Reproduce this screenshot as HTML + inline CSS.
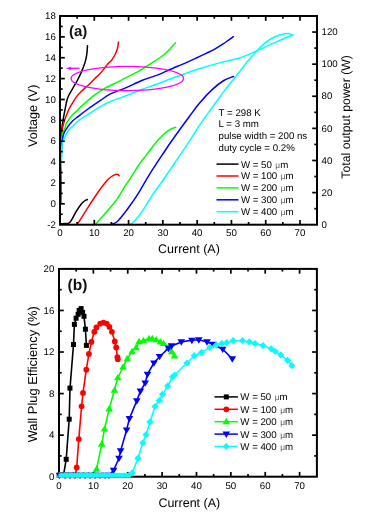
<!DOCTYPE html>
<html><head><meta charset="utf-8"><style>
html,body{margin:0;padding:0;background:#fff;width:370px;height:523px;overflow:hidden;position:relative}
</style></head><body>
<svg width="370" height="523" viewBox="0 0 370 523" style="position:absolute;left:0;top:0;will-change:transform">
<g font-family="Liberation Sans, sans-serif" fill="#000" text-rendering="geometricPrecision">
<path d="M60.50,204.00 C60.53,197.50 60.62,174.83 60.70,165.00 C60.78,155.17 60.87,150.33 61.00,145.00 C61.13,139.67 61.32,136.17 61.50,133.00 C61.68,129.83 61.80,128.38 62.10,126.00 C62.40,123.62 62.77,121.67 63.30,118.70 C63.83,115.73 64.70,111.23 65.30,108.20 C65.90,105.17 66.33,102.62 66.90,100.50 C67.47,98.38 67.60,97.75 68.70,95.50 C69.80,93.25 71.93,89.75 73.50,87.00 C75.07,84.25 76.67,81.77 78.10,79.00 C79.53,76.23 80.97,73.08 82.10,70.40 C83.23,67.72 84.13,65.48 84.90,62.90 C85.67,60.32 86.27,57.77 86.70,54.90 C87.13,52.03 87.37,47.23 87.50,45.70" fill="none" stroke="#000000" stroke-width="1.5" stroke-linejoin="round" stroke-linecap="round"/>
<path d="M60.50,204.00 C60.55,197.50 60.72,175.33 60.80,165.00 C60.88,154.67 60.83,147.50 61.00,142.00 C61.17,136.50 61.40,134.97 61.80,132.00 C62.20,129.03 62.68,126.85 63.40,124.20 C64.12,121.55 65.03,118.88 66.10,116.10 C67.17,113.32 68.68,109.75 69.80,107.50 C70.92,105.25 71.67,104.42 72.80,102.60 C73.93,100.78 75.15,98.50 76.60,96.60 C78.05,94.70 79.48,93.18 81.50,91.20 C83.52,89.22 86.55,86.73 88.70,84.70 C90.85,82.67 92.58,80.78 94.40,79.00 C96.22,77.22 98.07,75.60 99.60,74.00 C101.13,72.40 102.27,71.03 103.60,69.40 C104.93,67.77 106.27,65.73 107.60,64.20 C108.93,62.67 110.35,61.82 111.60,60.20 C112.85,58.58 114.13,56.40 115.10,54.50 C116.07,52.60 116.83,50.90 117.40,48.80 C117.97,46.70 118.32,43.05 118.50,41.90" fill="none" stroke="#ff0000" stroke-width="1.5" stroke-linejoin="round" stroke-linecap="round"/>
<path d="M60.50,204.00 C60.58,197.50 60.83,175.33 61.00,165.00 C61.17,154.67 61.22,147.28 61.50,142.00 C61.78,136.72 62.12,135.63 62.70,133.30 C63.28,130.97 64.35,129.70 65.00,128.00 C65.65,126.30 65.52,125.08 66.60,123.10 C67.68,121.12 69.60,118.30 71.50,116.10 C73.40,113.90 75.87,111.98 78.00,109.90 C80.13,107.82 81.67,105.98 84.30,103.60 C86.93,101.22 90.40,98.13 93.80,95.60 C97.20,93.07 100.35,90.85 104.70,88.40 C109.05,85.95 114.85,83.43 119.90,80.90 C124.95,78.37 131.25,75.20 135.00,73.20 C138.75,71.20 139.63,70.57 142.40,68.90 C145.17,67.23 148.08,65.52 151.60,63.20 C155.12,60.88 160.43,57.38 163.50,55.00 C166.57,52.62 168.02,50.92 170.00,48.90 C171.98,46.88 174.50,43.90 175.40,42.90" fill="none" stroke="#00ff00" stroke-width="1.5" stroke-linejoin="round" stroke-linecap="round"/>
<path d="M60.50,204.00 C60.58,198.33 60.82,179.00 61.00,170.00 C61.18,161.00 61.38,154.85 61.60,150.00 C61.82,145.15 61.92,143.68 62.30,140.90 C62.68,138.12 63.00,135.63 63.90,133.30 C64.80,130.97 66.25,128.95 67.70,126.90 C69.15,124.85 70.88,122.72 72.60,121.00 C74.32,119.28 75.43,118.60 78.00,116.60 C80.57,114.60 84.25,111.70 88.00,109.00 C91.75,106.30 96.83,102.87 100.50,100.40 C104.17,97.93 105.72,96.33 110.00,94.20 C114.28,92.07 120.80,89.92 126.20,87.60 C131.60,85.28 137.00,82.47 142.40,80.30 C147.80,78.13 154.00,76.40 158.60,74.60 C163.20,72.80 165.40,71.50 170.00,69.50 C174.60,67.50 181.52,64.65 186.20,62.60 C190.88,60.55 194.77,58.73 198.10,57.20 C201.43,55.67 203.50,54.72 206.20,53.40 C208.90,52.08 211.60,50.80 214.30,49.30 C217.00,47.80 219.97,45.97 222.40,44.40 C224.83,42.83 227.07,41.18 228.90,39.90 C230.73,38.62 232.65,37.23 233.40,36.70" fill="none" stroke="#0000ff" stroke-width="1.5" stroke-linejoin="round" stroke-linecap="round"/>
<path d="M60.20,204.00 C60.22,201.67 60.20,195.33 60.30,190.00 C60.40,184.67 60.58,177.33 60.80,172.00 C61.02,166.67 61.40,162.55 61.60,158.00 C61.80,153.45 61.50,148.18 62.00,144.70 C62.50,141.22 63.40,139.63 64.60,137.10 C65.80,134.57 67.95,131.20 69.20,129.50 C70.45,127.80 70.63,128.32 72.10,126.90 C73.57,125.48 75.35,123.08 78.00,121.00 C80.65,118.92 84.25,116.80 88.00,114.40 C91.75,112.00 96.83,108.70 100.50,106.60 C104.17,104.50 105.72,103.62 110.00,101.80 C114.28,99.98 120.80,97.80 126.20,95.70 C131.60,93.60 137.00,91.23 142.40,89.20 C147.80,87.17 154.00,85.20 158.60,83.50 C163.20,81.80 165.40,80.72 170.00,79.00 C174.60,77.28 180.80,75.07 186.20,73.20 C191.60,71.33 197.00,69.48 202.40,67.80 C207.80,66.12 212.33,64.77 218.60,63.10 C224.87,61.43 233.73,59.78 240.00,57.80 C246.27,55.82 250.80,53.57 256.20,51.20 C261.60,48.83 267.53,45.80 272.40,43.60 C277.27,41.40 282.02,39.43 285.40,38.00 C288.78,36.57 291.48,35.50 292.70,35.00" fill="none" stroke="#00ffff" stroke-width="1.5" stroke-linejoin="round" stroke-linecap="round"/>
<path d="M61.00,223.80 C61.83,223.77 64.70,223.72 66.00,223.60 C67.30,223.48 67.97,223.57 68.80,223.10 C69.63,222.63 69.73,222.78 71.00,220.80 C72.27,218.82 74.78,213.88 76.40,211.20 C78.02,208.52 79.35,206.40 80.70,204.70 C82.05,203.00 83.38,201.87 84.50,201.00 C85.62,200.13 86.92,199.75 87.40,199.50" fill="none" stroke="#000000" stroke-width="1.5" stroke-linejoin="round" stroke-linecap="round"/>
<path d="M77.80,223.70 C79.40,221.13 84.00,213.58 87.40,208.30 C90.80,203.02 95.27,196.22 98.20,192.00 C101.13,187.78 103.20,185.25 105.00,183.00 C106.80,180.75 107.60,179.78 109.00,178.50 C110.40,177.22 112.00,176.02 113.40,175.30 C114.80,174.58 116.43,174.12 117.40,174.20 C118.37,174.28 118.90,175.53 119.20,175.80" fill="none" stroke="#ff0000" stroke-width="1.5" stroke-linejoin="round" stroke-linecap="round"/>
<path d="M95.70,224.00 C96.48,223.13 98.03,221.47 100.40,218.80 C102.77,216.13 107.02,211.45 109.90,208.00 C112.78,204.55 115.18,201.75 117.70,198.10 C120.22,194.45 122.95,189.32 125.00,186.10 C127.05,182.88 127.55,182.55 130.00,178.80 C132.45,175.05 136.92,167.63 139.70,163.60 C142.48,159.57 143.63,158.52 146.70,154.60 C149.77,150.68 154.58,144.07 158.10,140.10 C161.62,136.13 164.85,132.95 167.80,130.80 C170.75,128.65 174.47,127.80 175.80,127.20" fill="none" stroke="#00ff00" stroke-width="1.5" stroke-linejoin="round" stroke-linecap="round"/>
<path d="M112.60,224.00 C113.38,223.58 115.23,223.43 117.30,221.50 C119.37,219.57 122.58,215.48 125.00,212.40 C127.42,209.32 129.67,206.03 131.80,203.00 C133.93,199.97 134.77,199.10 137.80,194.20 C140.83,189.30 145.90,180.20 150.00,173.60 C154.10,167.00 158.53,160.40 162.40,154.60 C166.27,148.80 168.65,145.23 173.20,138.80 C177.75,132.37 185.33,121.93 189.70,116.00 C194.07,110.07 195.62,107.63 199.40,103.20 C203.18,98.77 208.33,93.18 212.40,89.40 C216.47,85.62 220.28,82.65 223.80,80.50 C227.32,78.35 231.88,77.17 233.50,76.50" fill="none" stroke="#0000ff" stroke-width="1.5" stroke-linejoin="round" stroke-linecap="round"/>
<path d="M129.00,224.20 C129.47,224.10 130.22,224.88 131.80,223.60 C133.38,222.32 136.25,219.33 138.50,216.50 C140.75,213.67 143.05,210.08 145.30,206.60 C147.55,203.12 148.97,200.12 152.00,195.60 C155.03,191.08 160.65,183.57 163.50,179.50 C166.35,175.43 164.98,177.25 169.10,171.20 C173.22,165.15 183.03,151.02 188.20,143.20 C193.37,135.38 196.07,130.28 200.10,124.30 C204.13,118.32 208.18,113.12 212.40,107.30 C216.62,101.48 221.30,94.78 225.40,89.40 C229.50,84.02 233.22,79.78 237.00,75.00 C240.78,70.22 244.90,64.58 248.10,60.70 C251.30,56.82 253.50,54.55 256.20,51.70 C258.90,48.85 261.60,45.88 264.30,43.60 C267.00,41.32 269.70,39.48 272.40,38.00 C275.10,36.52 277.80,35.47 280.50,34.70 C283.20,33.93 286.57,33.27 288.60,33.40 C290.63,33.53 292.02,35.15 292.70,35.50" fill="none" stroke="#00ffff" stroke-width="1.5" stroke-linejoin="round" stroke-linecap="round"/>
<ellipse cx="127.3" cy="78.5" rx="56.2" ry="12.1" fill="none" stroke="#ff00ff" stroke-width="1.3"/>
<line x1="79.5" y1="68.3" x2="69" y2="68.3" stroke="#ff00ff" stroke-width="1.3"/>
<polygon points="65.8,68.3 71.2,66.7 71.2,69.9" fill="#ff00ff"/>
<rect x="60.0" y="16.0" width="257.0" height="208.7" fill="none" stroke="#000" stroke-width="2"/>
<line x1="77.14" y1="224.7" x2="77.14" y2="222.0" stroke="#000" stroke-width="1.7"/>
<line x1="77.14" y1="16.0" x2="77.14" y2="18.7" stroke="#000" stroke-width="1.7"/>
<line x1="94.29" y1="224.7" x2="94.29" y2="219.89999999999998" stroke="#000" stroke-width="1.7"/>
<line x1="94.29" y1="16.0" x2="94.29" y2="20.8" stroke="#000" stroke-width="1.7"/>
<line x1="111.43" y1="224.7" x2="111.43" y2="222.0" stroke="#000" stroke-width="1.7"/>
<line x1="111.43" y1="16.0" x2="111.43" y2="18.7" stroke="#000" stroke-width="1.7"/>
<line x1="128.57" y1="224.7" x2="128.57" y2="219.89999999999998" stroke="#000" stroke-width="1.7"/>
<line x1="128.57" y1="16.0" x2="128.57" y2="20.8" stroke="#000" stroke-width="1.7"/>
<line x1="145.72" y1="224.7" x2="145.72" y2="222.0" stroke="#000" stroke-width="1.7"/>
<line x1="145.72" y1="16.0" x2="145.72" y2="18.7" stroke="#000" stroke-width="1.7"/>
<line x1="162.86" y1="224.7" x2="162.86" y2="219.89999999999998" stroke="#000" stroke-width="1.7"/>
<line x1="162.86" y1="16.0" x2="162.86" y2="20.8" stroke="#000" stroke-width="1.7"/>
<line x1="180.00" y1="224.7" x2="180.00" y2="222.0" stroke="#000" stroke-width="1.7"/>
<line x1="180.00" y1="16.0" x2="180.00" y2="18.7" stroke="#000" stroke-width="1.7"/>
<line x1="197.14" y1="224.7" x2="197.14" y2="219.89999999999998" stroke="#000" stroke-width="1.7"/>
<line x1="197.14" y1="16.0" x2="197.14" y2="20.8" stroke="#000" stroke-width="1.7"/>
<line x1="214.29" y1="224.7" x2="214.29" y2="222.0" stroke="#000" stroke-width="1.7"/>
<line x1="214.29" y1="16.0" x2="214.29" y2="18.7" stroke="#000" stroke-width="1.7"/>
<line x1="231.43" y1="224.7" x2="231.43" y2="219.89999999999998" stroke="#000" stroke-width="1.7"/>
<line x1="231.43" y1="16.0" x2="231.43" y2="20.8" stroke="#000" stroke-width="1.7"/>
<line x1="248.57" y1="224.7" x2="248.57" y2="222.0" stroke="#000" stroke-width="1.7"/>
<line x1="248.57" y1="16.0" x2="248.57" y2="18.7" stroke="#000" stroke-width="1.7"/>
<line x1="265.72" y1="224.7" x2="265.72" y2="219.89999999999998" stroke="#000" stroke-width="1.7"/>
<line x1="265.72" y1="16.0" x2="265.72" y2="20.8" stroke="#000" stroke-width="1.7"/>
<line x1="282.86" y1="224.7" x2="282.86" y2="222.0" stroke="#000" stroke-width="1.7"/>
<line x1="282.86" y1="16.0" x2="282.86" y2="18.7" stroke="#000" stroke-width="1.7"/>
<line x1="300.00" y1="224.7" x2="300.00" y2="219.89999999999998" stroke="#000" stroke-width="1.7"/>
<line x1="300.00" y1="16.0" x2="300.00" y2="20.8" stroke="#000" stroke-width="1.7"/>
<line x1="60.0" y1="214.26" x2="62.7" y2="214.26" stroke="#000" stroke-width="1.7"/>
<line x1="60.0" y1="203.83" x2="64.8" y2="203.83" stroke="#000" stroke-width="1.7"/>
<line x1="60.0" y1="193.39" x2="62.7" y2="193.39" stroke="#000" stroke-width="1.7"/>
<line x1="60.0" y1="182.96" x2="64.8" y2="182.96" stroke="#000" stroke-width="1.7"/>
<line x1="60.0" y1="172.52" x2="62.7" y2="172.52" stroke="#000" stroke-width="1.7"/>
<line x1="60.0" y1="162.09" x2="64.8" y2="162.09" stroke="#000" stroke-width="1.7"/>
<line x1="60.0" y1="151.66" x2="62.7" y2="151.66" stroke="#000" stroke-width="1.7"/>
<line x1="60.0" y1="141.22" x2="64.8" y2="141.22" stroke="#000" stroke-width="1.7"/>
<line x1="60.0" y1="130.78" x2="62.7" y2="130.78" stroke="#000" stroke-width="1.7"/>
<line x1="60.0" y1="120.35" x2="64.8" y2="120.35" stroke="#000" stroke-width="1.7"/>
<line x1="60.0" y1="109.91" x2="62.7" y2="109.91" stroke="#000" stroke-width="1.7"/>
<line x1="60.0" y1="99.48" x2="64.8" y2="99.48" stroke="#000" stroke-width="1.7"/>
<line x1="60.0" y1="89.04" x2="62.7" y2="89.04" stroke="#000" stroke-width="1.7"/>
<line x1="60.0" y1="78.61" x2="64.8" y2="78.61" stroke="#000" stroke-width="1.7"/>
<line x1="60.0" y1="68.17" x2="62.7" y2="68.17" stroke="#000" stroke-width="1.7"/>
<line x1="60.0" y1="57.74" x2="64.8" y2="57.74" stroke="#000" stroke-width="1.7"/>
<line x1="60.0" y1="47.31" x2="62.7" y2="47.31" stroke="#000" stroke-width="1.7"/>
<line x1="60.0" y1="36.87" x2="64.8" y2="36.87" stroke="#000" stroke-width="1.7"/>
<line x1="60.0" y1="26.44" x2="62.7" y2="26.44" stroke="#000" stroke-width="1.7"/>
<line x1="317.0" y1="208.65" x2="314.3" y2="208.65" stroke="#000" stroke-width="1.7"/>
<line x1="317.0" y1="192.59" x2="312.2" y2="192.59" stroke="#000" stroke-width="1.7"/>
<line x1="317.0" y1="176.54" x2="314.3" y2="176.54" stroke="#000" stroke-width="1.7"/>
<line x1="317.0" y1="160.48" x2="312.2" y2="160.48" stroke="#000" stroke-width="1.7"/>
<line x1="317.0" y1="144.43" x2="314.3" y2="144.43" stroke="#000" stroke-width="1.7"/>
<line x1="317.0" y1="128.38" x2="312.2" y2="128.38" stroke="#000" stroke-width="1.7"/>
<line x1="317.0" y1="112.32" x2="314.3" y2="112.32" stroke="#000" stroke-width="1.7"/>
<line x1="317.0" y1="96.27" x2="312.2" y2="96.27" stroke="#000" stroke-width="1.7"/>
<line x1="317.0" y1="80.22" x2="314.3" y2="80.22" stroke="#000" stroke-width="1.7"/>
<line x1="317.0" y1="64.16" x2="312.2" y2="64.16" stroke="#000" stroke-width="1.7"/>
<line x1="317.0" y1="48.11" x2="314.3" y2="48.11" stroke="#000" stroke-width="1.7"/>
<line x1="317.0" y1="32.05" x2="312.2" y2="32.05" stroke="#000" stroke-width="1.7"/>
<text x="55.8" y="227.7" font-size="9.7" text-anchor="end" font-weight="normal" >-2</text>
<text x="55.8" y="206.8" font-size="9.7" text-anchor="end" font-weight="normal" >0</text>
<text x="55.8" y="186.0" font-size="9.7" text-anchor="end" font-weight="normal" >2</text>
<text x="55.8" y="165.1" font-size="9.7" text-anchor="end" font-weight="normal" >4</text>
<text x="55.8" y="144.2" font-size="9.7" text-anchor="end" font-weight="normal" >6</text>
<text x="55.8" y="123.3" font-size="9.7" text-anchor="end" font-weight="normal" >8</text>
<text x="55.8" y="102.5" font-size="9.7" text-anchor="end" font-weight="normal" >10</text>
<text x="55.8" y="81.6" font-size="9.7" text-anchor="end" font-weight="normal" >12</text>
<text x="55.8" y="60.7" font-size="9.7" text-anchor="end" font-weight="normal" >14</text>
<text x="55.8" y="39.9" font-size="9.7" text-anchor="end" font-weight="normal" >16</text>
<text x="55.8" y="19.0" font-size="9.7" text-anchor="end" font-weight="normal" >18</text>
<text x="60.0" y="236.3" font-size="9.7" text-anchor="middle" font-weight="normal" >0</text>
<text x="94.3" y="236.3" font-size="9.7" text-anchor="middle" font-weight="normal" >10</text>
<text x="128.6" y="236.3" font-size="9.7" text-anchor="middle" font-weight="normal" >20</text>
<text x="162.9" y="236.3" font-size="9.7" text-anchor="middle" font-weight="normal" >30</text>
<text x="197.1" y="236.3" font-size="9.7" text-anchor="middle" font-weight="normal" >40</text>
<text x="231.4" y="236.3" font-size="9.7" text-anchor="middle" font-weight="normal" >50</text>
<text x="265.7" y="236.3" font-size="9.7" text-anchor="middle" font-weight="normal" >60</text>
<text x="300.0" y="236.3" font-size="9.7" text-anchor="middle" font-weight="normal" >70</text>
<text x="321.5" y="227.8" font-size="9.7" text-anchor="start" font-weight="normal" >0</text>
<text x="321.5" y="195.7" font-size="9.7" text-anchor="start" font-weight="normal" >20</text>
<text x="321.5" y="163.6" font-size="9.7" text-anchor="start" font-weight="normal" >40</text>
<text x="321.5" y="131.5" font-size="9.7" text-anchor="start" font-weight="normal" >60</text>
<text x="321.5" y="99.4" font-size="9.7" text-anchor="start" font-weight="normal" >80</text>
<text x="321.5" y="67.3" font-size="9.7" text-anchor="start" font-weight="normal" >100</text>
<text x="321.5" y="35.2" font-size="9.7" text-anchor="start" font-weight="normal" >120</text>
<text x="69.0" y="35.8" font-size="15.0" text-anchor="start" font-weight="bold" fill="#111">(a)</text>
<text x="188.9" y="253.0" font-size="12.5" text-anchor="middle" font-weight="normal" >Current (A)</text>
<text x="0" y="0" font-size="12.6" text-anchor="middle" transform="translate(36.6,115.8) rotate(-90)">Voltage (V)</text>
<text x="0" y="0" font-size="12.3" text-anchor="middle" transform="translate(349.7,116.9) rotate(-90)">Total output power (W)</text>
<text x="218.6" y="115.5" font-size="9.7" text-anchor="start" font-weight="normal" >T = 298 K</text>
<text x="218.6" y="127.4" font-size="9.7" text-anchor="start" font-weight="normal" >L = 3 mm</text>
<text x="218.6" y="139.3" font-size="9.7" text-anchor="start" font-weight="normal" >pulse width = 200 ns</text>
<text x="218.6" y="151.2" font-size="9.7" text-anchor="start" font-weight="normal" >duty cycle = 0.2%</text>
<line x1="216.5" y1="164.1" x2="238.5" y2="164.1" stroke="#000000" stroke-width="1.5"/>
<text x="240.9" y="167.5" font-size="9.7" text-anchor="start" font-weight="normal" >W = 50 <tspan dx="0.8" font-size="8.3" fill="#555">μ</tspan>m</text>
<line x1="216.5" y1="176.0" x2="238.5" y2="176.0" stroke="#ff0000" stroke-width="1.5"/>
<text x="240.9" y="179.4" font-size="9.7" text-anchor="start" font-weight="normal" >W = 100 <tspan dx="0.8" font-size="8.3" fill="#555">μ</tspan>m</text>
<line x1="216.5" y1="187.9" x2="238.5" y2="187.9" stroke="#00ff00" stroke-width="1.5"/>
<text x="240.9" y="191.3" font-size="9.7" text-anchor="start" font-weight="normal" >W = 200 <tspan dx="0.8" font-size="8.3" fill="#555">μ</tspan>m</text>
<line x1="216.5" y1="199.8" x2="238.5" y2="199.8" stroke="#0000ff" stroke-width="1.5"/>
<text x="240.9" y="203.2" font-size="9.7" text-anchor="start" font-weight="normal" >W = 300 <tspan dx="0.8" font-size="8.3" fill="#555">μ</tspan>m</text>
<line x1="216.5" y1="211.7" x2="238.5" y2="211.7" stroke="#00ffff" stroke-width="1.5"/>
<text x="240.9" y="215.1" font-size="9.7" text-anchor="start" font-weight="normal" >W = 400 <tspan dx="0.8" font-size="8.3" fill="#555">μ</tspan>m</text>
<rect x="59.0" y="268.9" width="257.9" height="207.8" fill="none" stroke="#000" stroke-width="2"/>
<line x1="76.19" y1="476.7" x2="76.19" y2="474.0" stroke="#000" stroke-width="1.7"/>
<line x1="76.19" y1="268.9" x2="76.19" y2="271.59999999999997" stroke="#000" stroke-width="1.7"/>
<line x1="93.37" y1="476.7" x2="93.37" y2="471.9" stroke="#000" stroke-width="1.7"/>
<line x1="93.37" y1="268.9" x2="93.37" y2="273.7" stroke="#000" stroke-width="1.7"/>
<line x1="110.56" y1="476.7" x2="110.56" y2="474.0" stroke="#000" stroke-width="1.7"/>
<line x1="110.56" y1="268.9" x2="110.56" y2="271.59999999999997" stroke="#000" stroke-width="1.7"/>
<line x1="127.74" y1="476.7" x2="127.74" y2="471.9" stroke="#000" stroke-width="1.7"/>
<line x1="127.74" y1="268.9" x2="127.74" y2="273.7" stroke="#000" stroke-width="1.7"/>
<line x1="144.93" y1="476.7" x2="144.93" y2="474.0" stroke="#000" stroke-width="1.7"/>
<line x1="144.93" y1="268.9" x2="144.93" y2="271.59999999999997" stroke="#000" stroke-width="1.7"/>
<line x1="162.11" y1="476.7" x2="162.11" y2="471.9" stroke="#000" stroke-width="1.7"/>
<line x1="162.11" y1="268.9" x2="162.11" y2="273.7" stroke="#000" stroke-width="1.7"/>
<line x1="179.29" y1="476.7" x2="179.29" y2="474.0" stroke="#000" stroke-width="1.7"/>
<line x1="179.29" y1="268.9" x2="179.29" y2="271.59999999999997" stroke="#000" stroke-width="1.7"/>
<line x1="196.48" y1="476.7" x2="196.48" y2="471.9" stroke="#000" stroke-width="1.7"/>
<line x1="196.48" y1="268.9" x2="196.48" y2="273.7" stroke="#000" stroke-width="1.7"/>
<line x1="213.66" y1="476.7" x2="213.66" y2="474.0" stroke="#000" stroke-width="1.7"/>
<line x1="213.66" y1="268.9" x2="213.66" y2="271.59999999999997" stroke="#000" stroke-width="1.7"/>
<line x1="230.85" y1="476.7" x2="230.85" y2="471.9" stroke="#000" stroke-width="1.7"/>
<line x1="230.85" y1="268.9" x2="230.85" y2="273.7" stroke="#000" stroke-width="1.7"/>
<line x1="248.03" y1="476.7" x2="248.03" y2="474.0" stroke="#000" stroke-width="1.7"/>
<line x1="248.03" y1="268.9" x2="248.03" y2="271.59999999999997" stroke="#000" stroke-width="1.7"/>
<line x1="265.22" y1="476.7" x2="265.22" y2="471.9" stroke="#000" stroke-width="1.7"/>
<line x1="265.22" y1="268.9" x2="265.22" y2="273.7" stroke="#000" stroke-width="1.7"/>
<line x1="282.40" y1="476.7" x2="282.40" y2="474.0" stroke="#000" stroke-width="1.7"/>
<line x1="282.40" y1="268.9" x2="282.40" y2="271.59999999999997" stroke="#000" stroke-width="1.7"/>
<line x1="299.59" y1="476.7" x2="299.59" y2="471.9" stroke="#000" stroke-width="1.7"/>
<line x1="299.59" y1="268.9" x2="299.59" y2="273.7" stroke="#000" stroke-width="1.7"/>
<line x1="59.0" y1="455.92" x2="61.7" y2="455.92" stroke="#000" stroke-width="1.7"/>
<line x1="59.0" y1="435.14" x2="63.8" y2="435.14" stroke="#000" stroke-width="1.7"/>
<line x1="59.0" y1="414.36" x2="61.7" y2="414.36" stroke="#000" stroke-width="1.7"/>
<line x1="59.0" y1="393.58" x2="63.8" y2="393.58" stroke="#000" stroke-width="1.7"/>
<line x1="59.0" y1="372.80" x2="61.7" y2="372.80" stroke="#000" stroke-width="1.7"/>
<line x1="59.0" y1="352.02" x2="63.8" y2="352.02" stroke="#000" stroke-width="1.7"/>
<line x1="59.0" y1="331.24" x2="61.7" y2="331.24" stroke="#000" stroke-width="1.7"/>
<line x1="59.0" y1="310.46" x2="63.8" y2="310.46" stroke="#000" stroke-width="1.7"/>
<line x1="59.0" y1="289.68" x2="61.7" y2="289.68" stroke="#000" stroke-width="1.7"/>
<line x1="316.9" y1="455.92" x2="314.2" y2="455.92" stroke="#000" stroke-width="1.7"/>
<line x1="316.9" y1="435.14" x2="312.09999999999997" y2="435.14" stroke="#000" stroke-width="1.7"/>
<line x1="316.9" y1="414.36" x2="314.2" y2="414.36" stroke="#000" stroke-width="1.7"/>
<line x1="316.9" y1="393.58" x2="312.09999999999997" y2="393.58" stroke="#000" stroke-width="1.7"/>
<line x1="316.9" y1="372.80" x2="314.2" y2="372.80" stroke="#000" stroke-width="1.7"/>
<line x1="316.9" y1="352.02" x2="312.09999999999997" y2="352.02" stroke="#000" stroke-width="1.7"/>
<line x1="316.9" y1="331.24" x2="314.2" y2="331.24" stroke="#000" stroke-width="1.7"/>
<line x1="316.9" y1="310.46" x2="312.09999999999997" y2="310.46" stroke="#000" stroke-width="1.7"/>
<line x1="316.9" y1="289.68" x2="314.2" y2="289.68" stroke="#000" stroke-width="1.7"/>
<polyline points="59.5,475.3 61.5,475.3 63.5,475.3 66.2,459.3 69.2,419.2 70.0,388.1 73.5,344.5 74.4,324.4 76.1,318.2 78.1,314.3 79.2,310.5 81.1,308.6 82.6,312.4 84.0,316.3 85.4,329.2 86.4,345.4" fill="none" stroke="#000000" stroke-width="1.6" stroke-linejoin="round" stroke-linecap="round" />
<rect x="57.00" y="472.80" width="5.0" height="5.0" fill="#000000"/>
<rect x="59.00" y="472.80" width="5.0" height="5.0" fill="#000000"/>
<rect x="61.00" y="472.80" width="5.0" height="5.0" fill="#000000"/>
<rect x="63.70" y="456.80" width="5.0" height="5.0" fill="#000000"/>
<rect x="66.70" y="416.70" width="5.0" height="5.0" fill="#000000"/>
<rect x="67.45" y="385.60" width="5.0" height="5.0" fill="#000000"/>
<rect x="71.00" y="342.00" width="5.0" height="5.0" fill="#000000"/>
<rect x="71.90" y="321.90" width="5.0" height="5.0" fill="#000000"/>
<rect x="73.60" y="315.70" width="5.0" height="5.0" fill="#000000"/>
<rect x="75.60" y="311.80" width="5.0" height="5.0" fill="#000000"/>
<rect x="76.70" y="308.00" width="5.0" height="5.0" fill="#000000"/>
<rect x="78.60" y="306.10" width="5.0" height="5.0" fill="#000000"/>
<rect x="80.10" y="309.90" width="5.0" height="5.0" fill="#000000"/>
<rect x="81.50" y="313.80" width="5.0" height="5.0" fill="#000000"/>
<rect x="82.90" y="326.70" width="5.0" height="5.0" fill="#000000"/>
<rect x="83.90" y="342.90" width="5.0" height="5.0" fill="#000000"/>
<polyline points="59.5,475.3 63.0,475.3 66.5,475.3 70.0,475.3 73.0,475.3 75.2,475.3 76.7,467.5 78.8,439.1 81.6,406.3 83.0,392.9 86.3,369.7 88.9,353.9 91.4,342.0 94.3,331.8 96.4,327.4 100.2,323.6 103.5,322.6 106.7,323.6 109.4,326.9 111.9,331.8 114.8,341.5 116.2,347.4 117.4,357.2 117.8,359.2" fill="none" stroke="#ff0000" stroke-width="1.6" stroke-linejoin="round" stroke-linecap="round" />
<circle cx="59.50" cy="475.30" r="2.9" fill="#ff0000"/>
<circle cx="63.00" cy="475.30" r="2.9" fill="#ff0000"/>
<circle cx="66.50" cy="475.30" r="2.9" fill="#ff0000"/>
<circle cx="70.00" cy="475.30" r="2.9" fill="#ff0000"/>
<circle cx="73.00" cy="475.30" r="2.9" fill="#ff0000"/>
<circle cx="75.20" cy="475.30" r="2.9" fill="#ff0000"/>
<circle cx="76.70" cy="467.50" r="2.9" fill="#ff0000"/>
<circle cx="78.80" cy="439.10" r="2.9" fill="#ff0000"/>
<circle cx="81.60" cy="406.30" r="2.9" fill="#ff0000"/>
<circle cx="83.00" cy="392.90" r="2.9" fill="#ff0000"/>
<circle cx="86.30" cy="369.70" r="2.9" fill="#ff0000"/>
<circle cx="88.90" cy="353.90" r="2.9" fill="#ff0000"/>
<circle cx="91.40" cy="342.00" r="2.9" fill="#ff0000"/>
<circle cx="94.30" cy="331.80" r="2.9" fill="#ff0000"/>
<circle cx="96.40" cy="327.40" r="2.9" fill="#ff0000"/>
<circle cx="100.20" cy="323.60" r="2.9" fill="#ff0000"/>
<circle cx="103.50" cy="322.60" r="2.9" fill="#ff0000"/>
<circle cx="106.70" cy="323.60" r="2.9" fill="#ff0000"/>
<circle cx="109.40" cy="326.90" r="2.9" fill="#ff0000"/>
<circle cx="111.90" cy="331.80" r="2.9" fill="#ff0000"/>
<circle cx="114.80" cy="341.50" r="2.9" fill="#ff0000"/>
<circle cx="116.20" cy="347.40" r="2.9" fill="#ff0000"/>
<circle cx="117.40" cy="357.20" r="2.9" fill="#ff0000"/>
<circle cx="117.80" cy="359.20" r="2.9" fill="#ff0000"/>
<polyline points="59.5,475.3 64.0,475.3 69.0,475.3 74.0,475.3 79.0,475.3 84.0,475.3 89.0,475.3 93.0,475.3 96.5,469.2 101.8,444.2 104.5,429.0 109.2,408.9 114.4,390.3 117.8,377.8 123.1,367.0 127.2,358.9 132.0,351.6 136.1,347.6 139.0,341.6 143.4,340.7 149.0,338.6 152.3,338.6 156.3,339.8 160.4,341.9 163.6,343.5 168.5,347.6 171.7,351.6 174.5,356.0" fill="none" stroke="#00ff00" stroke-width="1.6" stroke-linejoin="round" stroke-linecap="round" />
<polygon points="59.50,471.46 63.30,477.86 55.70,477.86" fill="#00ff00"/>
<polygon points="64.00,471.46 67.80,477.86 60.20,477.86" fill="#00ff00"/>
<polygon points="69.00,471.46 72.80,477.86 65.20,477.86" fill="#00ff00"/>
<polygon points="74.00,471.46 77.80,477.86 70.20,477.86" fill="#00ff00"/>
<polygon points="79.00,471.46 82.80,477.86 75.20,477.86" fill="#00ff00"/>
<polygon points="84.00,471.46 87.80,477.86 80.20,477.86" fill="#00ff00"/>
<polygon points="89.00,471.46 92.80,477.86 85.20,477.86" fill="#00ff00"/>
<polygon points="93.00,471.46 96.80,477.86 89.20,477.86" fill="#00ff00"/>
<polygon points="96.50,465.36 100.30,471.76 92.70,471.76" fill="#00ff00"/>
<polygon points="101.80,440.36 105.60,446.76 98.00,446.76" fill="#00ff00"/>
<polygon points="104.50,425.16 108.30,431.56 100.70,431.56" fill="#00ff00"/>
<polygon points="109.20,405.06 113.00,411.46 105.40,411.46" fill="#00ff00"/>
<polygon points="114.40,386.46 118.20,392.86 110.60,392.86" fill="#00ff00"/>
<polygon points="117.80,373.96 121.60,380.36 114.00,380.36" fill="#00ff00"/>
<polygon points="123.10,363.16 126.90,369.56 119.30,369.56" fill="#00ff00"/>
<polygon points="127.20,355.06 131.00,361.46 123.40,361.46" fill="#00ff00"/>
<polygon points="132.00,347.76 135.80,354.16 128.20,354.16" fill="#00ff00"/>
<polygon points="136.10,343.76 139.90,350.16 132.30,350.16" fill="#00ff00"/>
<polygon points="139.00,337.76 142.80,344.16 135.20,344.16" fill="#00ff00"/>
<polygon points="143.40,336.86 147.20,343.26 139.60,343.26" fill="#00ff00"/>
<polygon points="149.00,334.76 152.80,341.16 145.20,341.16" fill="#00ff00"/>
<polygon points="152.30,334.76 156.10,341.16 148.50,341.16" fill="#00ff00"/>
<polygon points="156.30,335.96 160.10,342.36 152.50,342.36" fill="#00ff00"/>
<polygon points="160.40,338.06 164.20,344.46 156.60,344.46" fill="#00ff00"/>
<polygon points="163.60,339.66 167.40,346.06 159.80,346.06" fill="#00ff00"/>
<polygon points="168.50,343.76 172.30,350.16 164.70,350.16" fill="#00ff00"/>
<polygon points="171.70,347.76 175.50,354.16 167.90,354.16" fill="#00ff00"/>
<polygon points="174.50,352.16 178.30,358.56 170.70,358.56" fill="#00ff00"/>
<polyline points="59.5,475.3 65.0,475.3 70.0,475.3 75.0,475.3 80.0,475.3 85.0,475.3 90.0,475.3 95.0,475.3 100.0,475.3 105.0,475.3 109.0,475.3 113.6,470.4 119.0,458.2 120.6,450.9 126.6,430.0 129.4,418.6 136.8,400.8 140.4,391.1 145.2,383.0 147.5,374.2 153.9,363.0 159.6,356.5 168.5,348.4 171.6,345.9 181.3,341.9 191.9,340.3 198.8,339.8 207.0,341.9 213.0,344.3 222.7,349.2 232.3,358.9" fill="none" stroke="#0000ff" stroke-width="1.6" stroke-linejoin="round" stroke-linecap="round" />
<polygon points="59.50,479.14 63.30,472.74 55.70,472.74" fill="#0000ff"/>
<polygon points="65.00,479.14 68.80,472.74 61.20,472.74" fill="#0000ff"/>
<polygon points="70.00,479.14 73.80,472.74 66.20,472.74" fill="#0000ff"/>
<polygon points="75.00,479.14 78.80,472.74 71.20,472.74" fill="#0000ff"/>
<polygon points="80.00,479.14 83.80,472.74 76.20,472.74" fill="#0000ff"/>
<polygon points="85.00,479.14 88.80,472.74 81.20,472.74" fill="#0000ff"/>
<polygon points="90.00,479.14 93.80,472.74 86.20,472.74" fill="#0000ff"/>
<polygon points="95.00,479.14 98.80,472.74 91.20,472.74" fill="#0000ff"/>
<polygon points="100.00,479.14 103.80,472.74 96.20,472.74" fill="#0000ff"/>
<polygon points="105.00,479.14 108.80,472.74 101.20,472.74" fill="#0000ff"/>
<polygon points="109.00,479.14 112.80,472.74 105.20,472.74" fill="#0000ff"/>
<polygon points="113.60,474.24 117.40,467.84 109.80,467.84" fill="#0000ff"/>
<polygon points="119.00,462.04 122.80,455.64 115.20,455.64" fill="#0000ff"/>
<polygon points="120.60,454.74 124.40,448.34 116.80,448.34" fill="#0000ff"/>
<polygon points="126.60,433.84 130.40,427.44 122.80,427.44" fill="#0000ff"/>
<polygon points="129.40,422.44 133.20,416.04 125.60,416.04" fill="#0000ff"/>
<polygon points="136.80,404.64 140.60,398.24 133.00,398.24" fill="#0000ff"/>
<polygon points="140.40,394.94 144.20,388.54 136.60,388.54" fill="#0000ff"/>
<polygon points="145.20,386.84 149.00,380.44 141.40,380.44" fill="#0000ff"/>
<polygon points="147.50,378.04 151.30,371.64 143.70,371.64" fill="#0000ff"/>
<polygon points="153.90,366.84 157.70,360.44 150.10,360.44" fill="#0000ff"/>
<polygon points="159.60,360.34 163.40,353.94 155.80,353.94" fill="#0000ff"/>
<polygon points="168.50,352.24 172.30,345.84 164.70,345.84" fill="#0000ff"/>
<polygon points="171.60,349.74 175.40,343.34 167.80,343.34" fill="#0000ff"/>
<polygon points="181.30,345.74 185.10,339.34 177.50,339.34" fill="#0000ff"/>
<polygon points="191.90,344.14 195.70,337.74 188.10,337.74" fill="#0000ff"/>
<polygon points="198.80,343.64 202.60,337.24 195.00,337.24" fill="#0000ff"/>
<polygon points="207.00,345.74 210.80,339.34 203.20,339.34" fill="#0000ff"/>
<polygon points="213.00,348.14 216.80,341.74 209.20,341.74" fill="#0000ff"/>
<polygon points="222.70,353.04 226.50,346.64 218.90,346.64" fill="#0000ff"/>
<polygon points="232.30,362.74 236.10,356.34 228.50,356.34" fill="#0000ff"/>
<polyline points="61.5,475.3 64.5,475.3 67.0,475.3 69.5,475.3 72.0,475.3 74.5,475.3 77.0,475.3 79.5,475.3 82.0,475.3 84.5,475.3 87.0,475.3 89.5,475.3 92.0,475.3 94.5,475.3 97.0,475.3 99.5,475.3 102.0,475.3 104.5,475.3 107.0,475.3 109.5,475.3 112.0,475.3 114.5,475.3 117.0,475.3 119.5,475.3 122.0,475.3 124.5,475.3 127.0,475.3 129.5,475.3 132.3,472.8 138.0,458.2 142.8,442.8 146.1,434.7 150.0,421.9 155.0,406.5 159.3,400.5 162.5,394.3 167.7,385.9 172.5,377.0 174.6,375.0 187.0,363.0 194.3,355.7 201.6,352.4 209.7,347.6 216.2,345.1 221.9,343.5 226.7,342.7 233.1,340.7 242.5,340.7 249.3,341.9 255.0,343.5 263.1,345.6 271.2,348.8 275.4,351.5 280.8,354.9 287.6,360.3 291.9,365.7" fill="none" stroke="#00ffff" stroke-width="1.6" stroke-linejoin="round" stroke-linecap="round" />
<polygon points="61.50,472.60 64.90,475.20 61.50,477.80 58.10,475.20" fill="#00ffff"/>
<polygon points="64.50,472.60 67.90,475.20 64.50,477.80 61.10,475.20" fill="#00ffff"/>
<polygon points="67.00,472.60 70.40,475.20 67.00,477.80 63.60,475.20" fill="#00ffff"/>
<polygon points="69.50,472.60 72.90,475.20 69.50,477.80 66.10,475.20" fill="#00ffff"/>
<polygon points="72.00,472.60 75.40,475.20 72.00,477.80 68.60,475.20" fill="#00ffff"/>
<polygon points="74.50,472.60 77.90,475.20 74.50,477.80 71.10,475.20" fill="#00ffff"/>
<polygon points="77.00,472.60 80.40,475.20 77.00,477.80 73.60,475.20" fill="#00ffff"/>
<polygon points="79.50,472.60 82.90,475.20 79.50,477.80 76.10,475.20" fill="#00ffff"/>
<polygon points="82.00,472.60 85.40,475.20 82.00,477.80 78.60,475.20" fill="#00ffff"/>
<polygon points="84.50,472.60 87.90,475.20 84.50,477.80 81.10,475.20" fill="#00ffff"/>
<polygon points="87.00,472.60 90.40,475.20 87.00,477.80 83.60,475.20" fill="#00ffff"/>
<polygon points="89.50,472.60 92.90,475.20 89.50,477.80 86.10,475.20" fill="#00ffff"/>
<polygon points="92.00,472.60 95.40,475.20 92.00,477.80 88.60,475.20" fill="#00ffff"/>
<polygon points="94.50,472.60 97.90,475.20 94.50,477.80 91.10,475.20" fill="#00ffff"/>
<polygon points="97.00,472.60 100.40,475.20 97.00,477.80 93.60,475.20" fill="#00ffff"/>
<polygon points="99.50,472.60 102.90,475.20 99.50,477.80 96.10,475.20" fill="#00ffff"/>
<polygon points="102.00,472.60 105.40,475.20 102.00,477.80 98.60,475.20" fill="#00ffff"/>
<polygon points="104.50,472.60 107.90,475.20 104.50,477.80 101.10,475.20" fill="#00ffff"/>
<polygon points="107.00,472.60 110.40,475.20 107.00,477.80 103.60,475.20" fill="#00ffff"/>
<polygon points="109.50,472.60 112.90,475.20 109.50,477.80 106.10,475.20" fill="#00ffff"/>
<polygon points="112.00,472.60 115.40,475.20 112.00,477.80 108.60,475.20" fill="#00ffff"/>
<polygon points="114.50,472.60 117.90,475.20 114.50,477.80 111.10,475.20" fill="#00ffff"/>
<polygon points="117.00,472.60 120.40,475.20 117.00,477.80 113.60,475.20" fill="#00ffff"/>
<polygon points="119.50,472.60 122.90,475.20 119.50,477.80 116.10,475.20" fill="#00ffff"/>
<polygon points="122.00,472.60 125.40,475.20 122.00,477.80 118.60,475.20" fill="#00ffff"/>
<polygon points="124.50,472.60 127.90,475.20 124.50,477.80 121.10,475.20" fill="#00ffff"/>
<polygon points="127.00,472.60 130.40,475.20 127.00,477.80 123.60,475.20" fill="#00ffff"/>
<polygon points="129.50,472.60 132.90,475.20 129.50,477.80 126.10,475.20" fill="#00ffff"/>
<polygon points="132.30,469.20 135.90,472.80 132.30,476.40 128.70,472.80" fill="#00ffff"/>
<polygon points="138.00,454.60 141.60,458.20 138.00,461.80 134.40,458.20" fill="#00ffff"/>
<polygon points="142.80,439.20 146.40,442.80 142.80,446.40 139.20,442.80" fill="#00ffff"/>
<polygon points="146.10,431.10 149.70,434.70 146.10,438.30 142.50,434.70" fill="#00ffff"/>
<polygon points="150.00,418.30 153.60,421.90 150.00,425.50 146.40,421.90" fill="#00ffff"/>
<polygon points="155.00,402.90 158.60,406.50 155.00,410.10 151.40,406.50" fill="#00ffff"/>
<polygon points="159.30,396.90 162.90,400.50 159.30,404.10 155.70,400.50" fill="#00ffff"/>
<polygon points="162.50,390.70 166.10,394.30 162.50,397.90 158.90,394.30" fill="#00ffff"/>
<polygon points="167.70,382.30 171.30,385.90 167.70,389.50 164.10,385.90" fill="#00ffff"/>
<polygon points="172.50,373.40 176.10,377.00 172.50,380.60 168.90,377.00" fill="#00ffff"/>
<polygon points="174.60,371.40 178.20,375.00 174.60,378.60 171.00,375.00" fill="#00ffff"/>
<polygon points="187.00,359.40 190.60,363.00 187.00,366.60 183.40,363.00" fill="#00ffff"/>
<polygon points="194.30,352.10 197.90,355.70 194.30,359.30 190.70,355.70" fill="#00ffff"/>
<polygon points="201.60,348.80 205.20,352.40 201.60,356.00 198.00,352.40" fill="#00ffff"/>
<polygon points="209.70,344.00 213.30,347.60 209.70,351.20 206.10,347.60" fill="#00ffff"/>
<polygon points="216.20,341.50 219.80,345.10 216.20,348.70 212.60,345.10" fill="#00ffff"/>
<polygon points="221.90,339.90 225.50,343.50 221.90,347.10 218.30,343.50" fill="#00ffff"/>
<polygon points="226.70,339.10 230.30,342.70 226.70,346.30 223.10,342.70" fill="#00ffff"/>
<polygon points="233.10,337.10 236.70,340.70 233.10,344.30 229.50,340.70" fill="#00ffff"/>
<polygon points="242.50,337.10 246.10,340.70 242.50,344.30 238.90,340.70" fill="#00ffff"/>
<polygon points="249.30,338.30 252.90,341.90 249.30,345.50 245.70,341.90" fill="#00ffff"/>
<polygon points="255.00,339.90 258.60,343.50 255.00,347.10 251.40,343.50" fill="#00ffff"/>
<polygon points="263.10,342.00 266.70,345.60 263.10,349.20 259.50,345.60" fill="#00ffff"/>
<polygon points="271.20,345.20 274.80,348.80 271.20,352.40 267.60,348.80" fill="#00ffff"/>
<polygon points="275.40,347.90 279.00,351.50 275.40,355.10 271.80,351.50" fill="#00ffff"/>
<polygon points="280.80,351.30 284.40,354.90 280.80,358.50 277.20,354.90" fill="#00ffff"/>
<polygon points="287.60,356.70 291.20,360.30 287.60,363.90 284.00,360.30" fill="#00ffff"/>
<polygon points="291.90,362.10 295.50,365.70 291.90,369.30 288.30,365.70" fill="#00ffff"/>
<rect x="58.5" y="473.6" width="72" height="4.0" fill="#00ffff"/>
<text x="54.3" y="479.8" font-size="9.7" text-anchor="end" font-weight="normal" >0</text>
<text x="54.3" y="438.2" font-size="9.7" text-anchor="end" font-weight="normal" >4</text>
<text x="54.3" y="396.7" font-size="9.7" text-anchor="end" font-weight="normal" >8</text>
<text x="54.3" y="355.1" font-size="9.7" text-anchor="end" font-weight="normal" >12</text>
<text x="54.3" y="313.6" font-size="9.7" text-anchor="end" font-weight="normal" >16</text>
<text x="54.3" y="272.0" font-size="9.7" text-anchor="end" font-weight="normal" >20</text>
<text x="59.0" y="489.0" font-size="9.7" text-anchor="middle" font-weight="normal" >0</text>
<text x="93.4" y="489.0" font-size="9.7" text-anchor="middle" font-weight="normal" >10</text>
<text x="127.7" y="489.0" font-size="9.7" text-anchor="middle" font-weight="normal" >20</text>
<text x="162.1" y="489.0" font-size="9.7" text-anchor="middle" font-weight="normal" >30</text>
<text x="196.5" y="489.0" font-size="9.7" text-anchor="middle" font-weight="normal" >40</text>
<text x="230.8" y="489.0" font-size="9.7" text-anchor="middle" font-weight="normal" >50</text>
<text x="265.2" y="489.0" font-size="9.7" text-anchor="middle" font-weight="normal" >60</text>
<text x="299.6" y="489.0" font-size="9.7" text-anchor="middle" font-weight="normal" >70</text>
<text x="67.6" y="290.0" font-size="15.5" text-anchor="start" font-weight="bold" fill="#111">(b)</text>
<text x="189.3" y="507.3" font-size="12.5" text-anchor="middle" font-weight="normal" >Current (A)</text>
<text x="0" y="0" font-size="12.9" text-anchor="middle" transform="translate(36.7,374.3) rotate(-90)">Wall Plug Efficiency (%)</text>
<line x1="214.5" y1="396.9" x2="237.9" y2="396.9" stroke="#000000" stroke-width="1.5"/>
<rect x="223.80" y="394.40" width="5.0" height="5.0" fill="#000000"/>
<text x="240.3" y="400.3" font-size="9.7" text-anchor="start" font-weight="normal" >W = 50 <tspan dx="0.8" font-size="8.3" fill="#555">μ</tspan>m</text>
<line x1="214.5" y1="409.3" x2="237.9" y2="409.3" stroke="#ff0000" stroke-width="1.5"/>
<circle cx="226.30" cy="409.30" r="2.9" fill="#ff0000"/>
<text x="240.3" y="412.7" font-size="9.7" text-anchor="start" font-weight="normal" >W = 100 <tspan dx="0.8" font-size="8.3" fill="#555">μ</tspan>m</text>
<line x1="214.5" y1="421.7" x2="237.9" y2="421.7" stroke="#00ff00" stroke-width="1.5"/>
<polygon points="226.30,417.86 230.10,424.26 222.50,424.26" fill="#00ff00"/>
<text x="240.3" y="425.1" font-size="9.7" text-anchor="start" font-weight="normal" >W = 200 <tspan dx="0.8" font-size="8.3" fill="#555">μ</tspan>m</text>
<line x1="214.5" y1="434.1" x2="237.9" y2="434.1" stroke="#0000ff" stroke-width="1.5"/>
<polygon points="226.30,437.94 230.10,431.54 222.50,431.54" fill="#0000ff"/>
<text x="240.3" y="437.5" font-size="9.7" text-anchor="start" font-weight="normal" >W = 300 <tspan dx="0.8" font-size="8.3" fill="#555">μ</tspan>m</text>
<line x1="214.5" y1="446.5" x2="237.9" y2="446.5" stroke="#00ffff" stroke-width="1.5"/>
<polygon points="226.30,442.90 229.90,446.50 226.30,450.10 222.70,446.50" fill="#00ffff"/>
<text x="240.3" y="449.9" font-size="9.7" text-anchor="start" font-weight="normal" >W = 400 <tspan dx="0.8" font-size="8.3" fill="#555">μ</tspan>m</text>
</g></svg>
</body></html>
